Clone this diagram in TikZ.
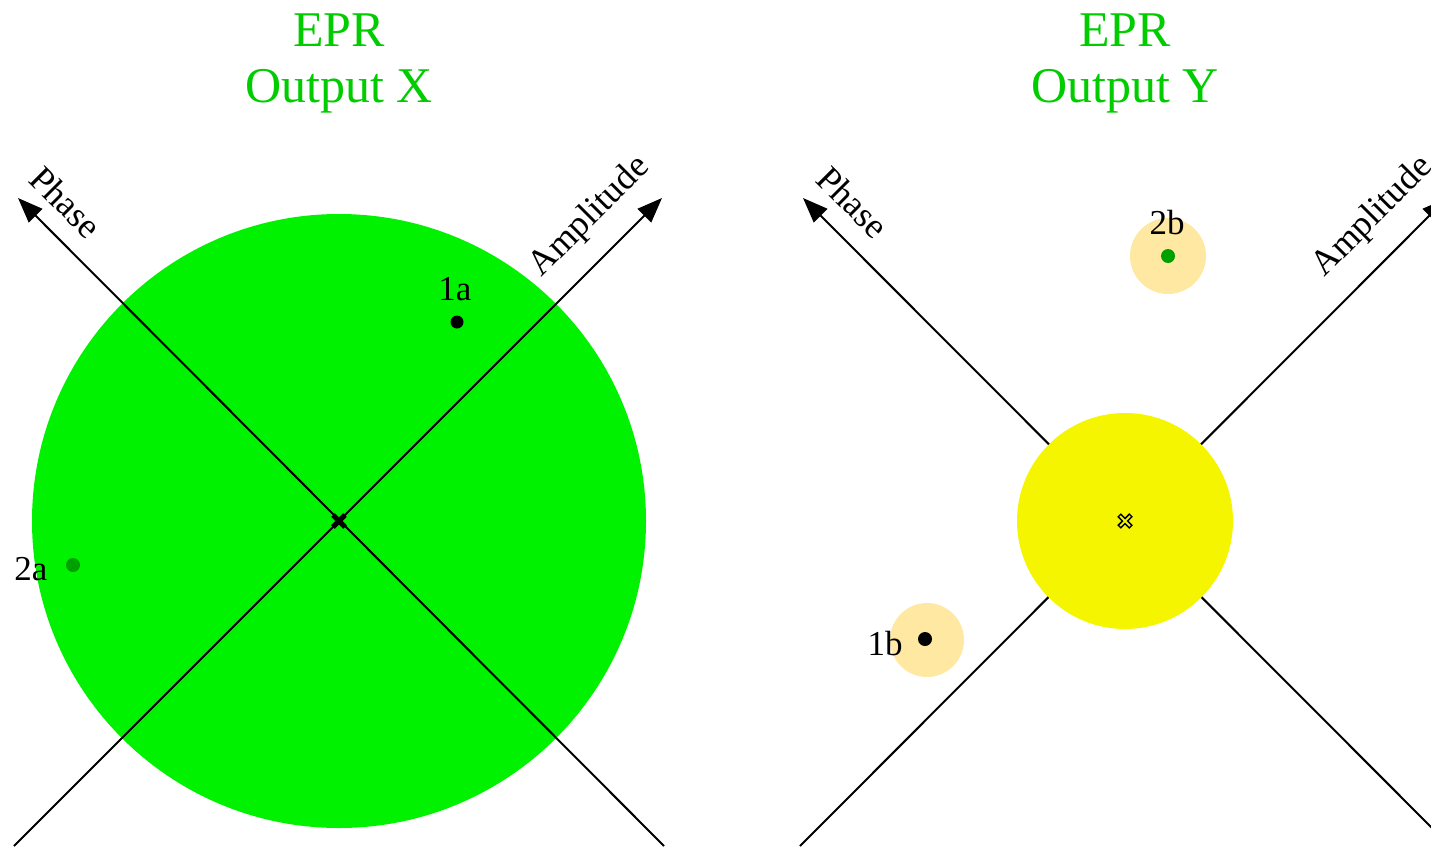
\documentclass[tikz,border=0pt]{standalone}
\usepackage{fontspec}
\setmainfont{Liberation Serif}
\usetikzlibrary{arrows.meta,calc}
\definecolor{bigGreen}{RGB}{0,242,0}
\definecolor{titleGreen}{RGB}{0,204,0}
\definecolor{dotGreen}{RGB}{0,160,0}
\definecolor{yel}{RGB}{245,245,0}
\definecolor{peach}{RGB}{255,232,162}
\tikzset{
  axis/.style={line width=2pt, -{Triangle[length=25pt,width=19pt]}},
  title/.style={text=titleGreen, font=\fontsize{50}{56}\selectfont, align=center},
  lbl/.style={font=\fontsize{35}{40}\selectfont, inner sep=0pt},
  rlbl/.style={font=\fontsize{36}{40}\selectfont, inner sep=0pt},
}
\begin{document}
\begin{tikzpicture}[x=1pt,y=-1pt]
\useasboundingbox (0,0) rectangle (1431,846);
\clip (0,0) rectangle (1431,846);
% ---------- left diagram ----------
\coordinate (cL) at (339,521);
\fill[bigGreen] (cL) circle (307);
\coordinate (aL0) at (14,846);
\coordinate (aL1) at (662,198);
\coordinate (pL0) at (664,846);
\coordinate (pL1) at (18,198);
\draw[axis] (aL0) -- (aL1);
\draw[axis] (pL0) -- (pL1);
\draw[line width=5pt] ($(cL)+(-6,-6)$) -- ($(cL)+(6,6)$) ($(cL)+(-6,6)$) -- ($(cL)+(6,-6)$);
\node[rlbl, rotate=-45] (phL) at (66,202) {Phase};
\node[rlbl, rotate=45] (amL) at (590,217) {Amplitude};
\node[title] (tX) at (339,63) {EPR\\Output X};
\fill[black] (457,322) circle (6.5) coordinate (d1a);
\node[lbl] (l1a) at (455,289) {1a};
\fill[dotGreen] (73,565) circle (7) coordinate (d2a);
\node[lbl] (l2a) at (31,569) {2a};
% ---------- right diagram ----------
\coordinate (cR) at (1125,521);
\coordinate (aR0) at (800,846);
\coordinate (aR1) at (1447,198);
\coordinate (pR0) at (1450,846);
\coordinate (pR1) at (803,198);
\draw[axis] (aR0) -- (aR1);
\draw[axis] (pR0) -- (pR1);
\fill[yel] (cR) circle (108);
\draw[line width=5pt] ($(cR)+(-6,-6)$) -- ($(cR)+(6,6)$) ($(cR)+(-6,6)$) -- ($(cR)+(6,-6)$);
\draw[line width=1.8pt, yel] ($(cR)+(-5,-5)$) -- ($(cR)+(5,5)$) ($(cR)+(-5,5)$) -- ($(cR)+(5,-5)$);
\node[rlbl, rotate=-45] (phR) at (853,202) {Phase};
\node[rlbl, rotate=45] (amR) at (1373,217) {Amplitude};
\node[title] (tY) at (1125,63) {EPR\\Output Y};
\fill[peach] (927,640) circle (37);
\fill[black] (925,639) circle (7) coordinate (d1b);
\node[lbl] (l1b) at (885,644) {1b};
\fill[peach] (1168,256) circle (38);
\fill[dotGreen] (1168,256) circle (7) coordinate (d2b);
\node[lbl] (l2b) at (1167,223) {2b};
\end{tikzpicture}
\end{document}
